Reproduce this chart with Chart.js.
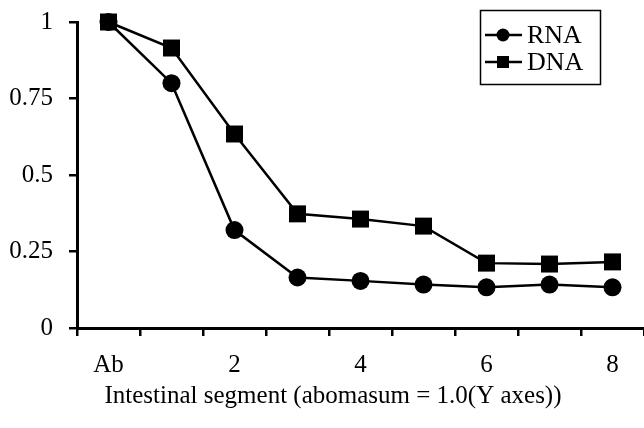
<!DOCTYPE html>
<html>
<head>
<meta charset="utf-8">
<script src="https://cdn.jsdelivr.net/npm/chart.js@4.4.0/dist/chart.umd.min.js"></script>
<style>
  html, body { margin: 0; padding: 0; background: #fff; }
  #wrap { width: 644px; height: 428px; position: relative; }
</style>
</head>
<body>
<div id="wrap"><canvas id="c" width="644" height="428"></canvas></div>
<script>
const categories = ['Ab', '1', '2', '3', '4', '5', '6', '7', '8'];
const shownLabels = ['Ab', '2', '4', '6', '8'];
const rnaValues = [1.0, 0.80, 0.32, 0.165, 0.154, 0.142, 0.133, 0.142, 0.133];
const dnaValues = [1.0, 0.915, 0.634, 0.373, 0.356, 0.333, 0.212, 0.209, 0.216];
const yTicks = [0, 0.25, 0.5, 0.75, 1];
const yTickLabels = ['0', '0.25', '0.5', '0.75', '1'];
const xTitle = 'Intestinal segment (abomasum = 1.0(Y axes))';

const FONT = '"Liberation Serif", "Times New Roman", serif';

const legendPlugin = {
  id: 'boxLegend',
  afterDraw(chart) {
    const ctx = chart.ctx;
    ctx.save();
    // x-axis title
    ctx.fillStyle = '#000';
    ctx.font = '25px ' + FONT;
    ctx.textAlign = 'center';
    ctx.textBaseline = 'middle';
    ctx.fillText(xTitle, 333, 396);
    // legend
    ctx.strokeStyle = '#000';
    ctx.lineWidth = 1.5;
    ctx.strokeRect(480.5, 10.5, 120, 74);
    const items = chart.data.datasets.map((ds, i) => ({ text: ds.label, style: ds.pointStyle, y: 35 + i * 27 }));
    items.forEach(it => {
      ctx.beginPath();
      ctx.lineWidth = 2.5;
      ctx.moveTo(485, it.y);
      ctx.lineTo(522, it.y);
      ctx.stroke();
      ctx.fillStyle = '#000';
      if (it.style === 'circle') {
        ctx.beginPath();
        ctx.arc(503, it.y, 6.5, 0, Math.PI * 2);
        ctx.fill();
      } else {
        ctx.fillRect(497, it.y - 6, 12, 12);
      }
      ctx.font = '26px ' + FONT;
      ctx.textBaseline = 'middle';
      ctx.textAlign = 'left';
      ctx.fillText(it.text, 527, it.y + 1);
    });
    ctx.restore();
  }
};

new Chart(document.getElementById('c'), {
  type: 'line',
  data: {
    labels: categories,
    datasets: [
      {
        label: 'RNA', data: rnaValues, borderColor: '#000', backgroundColor: '#000',
        borderWidth: 2.5, pointStyle: 'circle', pointRadius: 9, pointHoverRadius: 9,
        pointBorderWidth: 0, tension: 0, clip: false
      },
      {
        label: 'DNA', data: dnaValues, borderColor: '#000', backgroundColor: '#000',
        borderWidth: 2.5, pointStyle: 'rect', pointRadius: 12, pointHoverRadius: 12,
        pointBorderWidth: 0, tension: 0, clip: false
      }
    ]
  },
  options: {
    responsive: false,
    animation: false,
    devicePixelRatio: 1,
    layout: { autoPadding: false, padding: { top: 22, right: 0, left: 0, bottom: 0 } },
    plugins: { legend: { display: false }, tooltip: { enabled: false } },
    scales: {
      x: {
        type: 'category',
        offset: true,
        grid: { display: true, drawOnChartArea: false, offset: true, color: '#000', lineWidth: 2.5, tickLength: 8 },
        border: { display: true, color: '#000', width: 3 },
        ticks: {
          autoSkip: false, maxRotation: 0, color: '#000', padding: 14,
          font: { family: FONT, size: 25 },
          callback: function (v, i) {
            const l = categories[i];
            return shownLabels.includes(l) ? l : '';
          }
        },
        title: { display: false },
        afterFit(s) { s.height = 100; s.paddingLeft = 0; s.paddingRight = 0; }
      },
      y: {
        min: 0, max: 1,
        afterBuildTicks(s) { s.ticks = yTicks.map(v => ({ value: v })); },
        grid: { display: true, drawOnChartArea: false, color: '#000', lineWidth: 2.5, tickLength: 8 },
        border: { display: true, color: '#000', width: 3 },
        ticks: {
          color: '#000', padding: 16, font: { family: FONT, size: 25 },
          callback: function (v) { const i = yTicks.indexOf(v); return i >= 0 ? yTickLabels[i] : ''; }
        },
        afterFit(s) { s.width = 77; s.paddingTop = 0; s.paddingBottom = 0; }
      }
    }
  },
  plugins: [legendPlugin]
});
</script>
</body>
</html>
